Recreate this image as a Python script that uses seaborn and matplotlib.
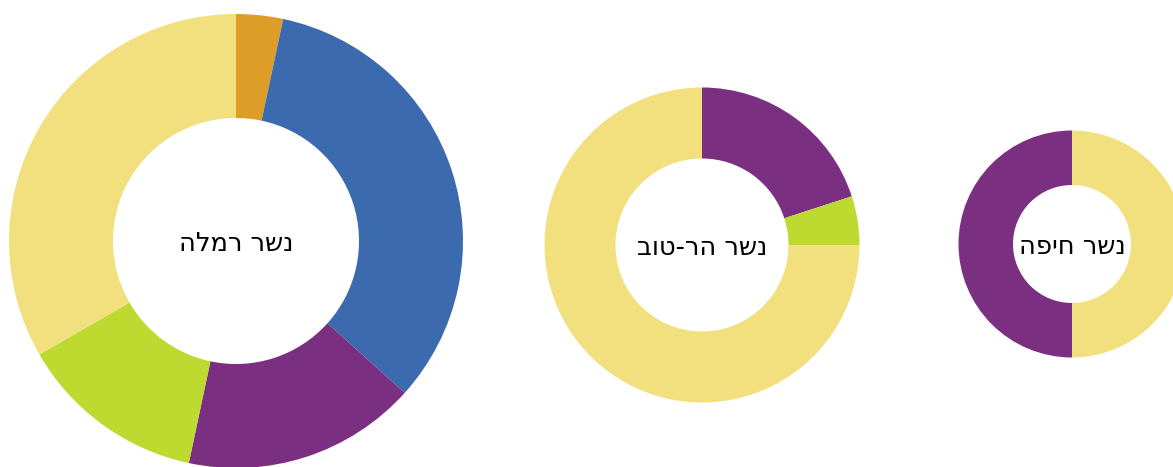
import seaborn as sns
import matplotlib.pyplot as plt

sns.set_theme(style='white')
plt.rcParams['font.family'] = ['DejaVu Sans']

# Hebrew labels (stored in logical order, reversed for left-to-right rendering)
labels = ['נשר רמלה', 'נשר הר-טוב', 'נשר חיפה']

ramla_vals = [1, 10, 5, 4, 10]
ramla_cols = ['#DE9D27', '#3C6AAE', '#7B2F80', '#BED930', '#F2DF7E']

hartov_vals = [4, 1, 15]
hartov_cols = ['#7B2F80', '#BED930', '#F2DF7E']

haifa_vals = [1, 1]
haifa_cols = ['#F2DF7E', '#7B2F80']

W, H = 1173, 467
fig = plt.figure(figsize=(W / 100, H / 100), dpi=100)

# (center x, center y, outer radius, inner radius) in pixels
donuts = [
    (ramla_vals, ramla_cols, labels[0], 236, 241, 227, 123),
    (hartov_vals, hartov_cols, labels[1], 702, 245, 157.5, 86.5),
    (haifa_vals, haifa_cols, labels[2], 1072, 244, 113.5, 59),
]

for vals, cols, lab, cx, cy, r, ri in donuts:
    ax = fig.add_axes([(cx - r) / W, (H - cy - r) / H, 2 * r / W, 2 * r / H])
    ax.pie(vals, colors=cols, startangle=90, counterclock=False, radius=1,
           wedgeprops=dict(width=1 - ri / r, linewidth=0))
    ax.set_xlim(-1, 1)
    ax.set_ylim(-1, 1)
    ax.set_aspect('equal')
    ax.axis('off')
    ax.annotate(lab[::-1], (0, 0), xytext=(0, -2), textcoords='offset points',
                ha='center', va='center', fontsize=18.5, color='#000000')

plt.savefig('out.png', dpi=100)
